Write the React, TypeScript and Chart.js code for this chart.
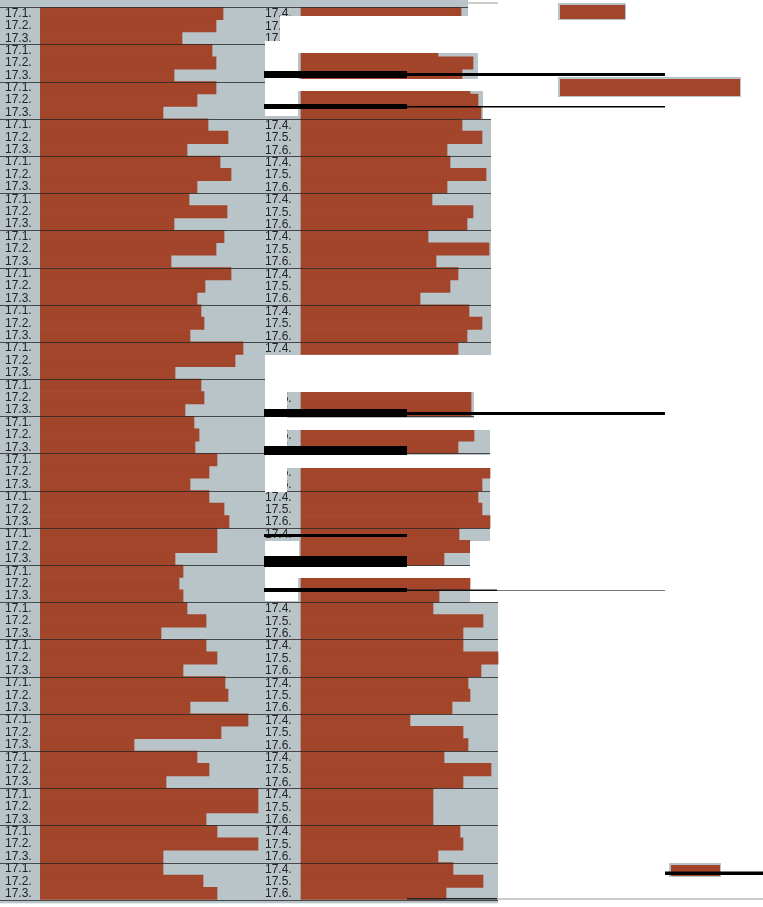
import React, { useEffect, useRef } from 'react';
import { Chart, registerables } from 'chart.js';

Chart.register(...registerables);

// ---- data (bar lengths) ----
const leftCodes = ['17.1.', '17.2.', '17.3.'];
const rightCodes = ['17.4.', '17.5.', '17.6.'];

const left171 = [183, 172, 176, 168, 180, 149, 184, 191, 161, 203, 161, 154, 177, 169, 177, 143, 147, 166, 185, 208, 157, 218, 177, 123];
const left172 = [176, 176, 157, 188, 191, 187, 176, 165, 164, 195, 164, 159, 169, 184, 177, 139, 166, 177, 188, 181, 169, 218, 218, 163];
const left173 = [142, 134, 123, 147, 157, 134, 131, 157, 150, 135, 145, 155, 150, 189, 135, 143, 121, 143, 150, 94, 126, 166, 123, 177];

const right174 = [160, 137, 169, 161, 149, 131, 127, 157, 168, 157, null, null, null, 177, 158, null, 132, 162, 167, 109, 143, 132, 159, 152];
const right175 = [null, 172, 177, 181, 185, 172, 188, 149, 181, null, 170, 173, 189, 181, 169, 169, 182, 197, 169, 162, 190, 132, 162, 182];
const right176 = [null, 161, 180, 146, 146, 166, 135, 119, 166, null, 170, 157, 181, 189, 143, 138, 162, 180, 151, 167, 162, 132, 137, 145];

// ---- styling / layout constants ----
const ORANGE = '#a2452a';
const GRAY = '#b8c4c8';
const LABEL_COLOR = '#242424';
const FONT = '"Liberation Sans", Arial, sans-serif';
const RIGHT_BASE = 261; // right panel bars start offset on the x scale
const PANEL_EDGE = [468, 478, 483, 491, 491, 491, 491, 491, 491, 491, 474, 490, 490, 490, 490, 470, 498, 498, 498, 498, 498, 498, 498, 498];

// damaged areas of the scanned sheet (white paper showing through)
const WHITE_PATCHES: [number, number, number, number][] = [
  [280, 16, 498, 41],
  [265, 41, 498, 53], [265, 53, 298, 79],
  [265, 79, 498, 91], [265, 91, 298, 116],
  [265, 355, 498, 392], [265, 392, 287, 492], [474, 392, 498, 418],
  [287, 418, 498, 430], [287, 455, 498, 468],
  [265, 541, 299, 566], [470, 541, 498, 566],
  [265, 566, 498, 578], [265, 578, 298, 601],
];
const BLACK_MARKS: [number, number, number, number, string][] = [
  [264, 71, 407, 78, '#000'], [407, 73, 665, 76, '#000'],
  [264, 104, 407, 109, '#000'], [407, 106, 665, 107.5, '#000'],
  [264, 409, 407, 417, '#000'], [407, 412, 665, 415, '#000'],
  [264, 446, 407, 455, '#000'],
  [264, 534, 407, 537, '#000'],
  [264, 556, 407, 567, '#000'],
  [264, 588, 407, 592, '#000'], [407, 589.5, 497, 591, '#111'], [497, 590, 665, 591, '#777'],
  [407, 898, 497, 899.5, '#222'], [497, 898.5, 763, 899.5, '#999'],
  [468, 2.5, 498, 3.5, '#999'],
  [665, 871.5, 763, 875, '#000'],
];
const STRAY_PIECES: [number, number, number, number][] = [
  [558, 3, 626, 20],
  [558, 77, 741, 97],
  [669, 863, 721, 877],
];

export default function App() {
  const ref = useRef<HTMLCanvasElement | null>(null);

  useEffect(() => {
    document.body.style.margin = '0';
    const canvas = ref.current;
    if (!canvas) return;

    const groups = left171.length;
    const labels: string[] = [];
    const leftData: number[] = [];
    const rightData: ([number, number] | null)[] = [];
    const rightLabels: string[] = [];
    for (let g = 0; g < groups; g++) {
      const l = [left171[g], left172[g], left173[g]];
      const r = [right174[g], right175[g], right176[g]];
      for (let k = 0; k < 3; k++) {
        labels.push(leftCodes[k]);
        rightLabels.push(rightCodes[k]);
        leftData.push(l[k]);
        const v = r[k];
        rightData.push(v == null ? null : [RIGHT_BASE, RIGHT_BASE + v]);
      }
    }

    const sheetPlugin = {
      id: 'sheet',
      beforeDraw(chart: any) {
        const ctx = chart.ctx;
        const y = chart.scales.y;
        const rowH = y.getPixelForValue(1) - y.getPixelForValue(0);
        ctx.save();
        ctx.fillStyle = '#fff';
        ctx.fillRect(0, 0, chart.width, chart.height);
        ctx.fillStyle = GRAY;
        for (let g = 0; g < groups; g++) {
          let top = y.getPixelForValue(g * 3) - rowH / 2;
          let bot = y.getPixelForValue(g * 3 + 2) + rowH / 2;
          if (g === 0) top = 0;
          if (g === groups - 1) bot += 3;
          ctx.fillRect(0, top, PANEL_EDGE[g], bot - top + 0.5);
        }
        ctx.restore();
      },
      beforeDatasetsDraw(chart: any) {
        const ctx = chart.ctx;
        const y = chart.scales.y;
        ctx.save();
        ctx.fillStyle = LABEL_COLOR;
        ctx.font = `12px ${FONT}`;
        ctx.textBaseline = 'middle';
        ctx.textAlign = 'left';
        for (let i = 0; i < rightLabels.length; i++) {
          ctx.fillText(rightLabels[i], 265, y.getPixelForValue(i) + 0.5);
        }
        ctx.restore();
      },
      afterDatasetsDraw(chart: any) {
        const ctx = chart.ctx;
        const y = chart.scales.y;
        const rowH = y.getPixelForValue(1) - y.getPixelForValue(0);
        ctx.save();
        ctx.strokeStyle = 'rgba(40,40,40,0.8)';
        ctx.lineWidth = 1;
        for (let g = 0; g <= groups; g++) {
          const yy = Math.round(y.getPixelForValue(g * 3) - rowH / 2) + 0.5;
          const edge = PANEL_EDGE[Math.min(g, groups - 1)];
          ctx.beginPath();
          ctx.moveTo(0, yy);
          ctx.lineTo(edge, yy);
          ctx.stroke();
        }
        ctx.fillStyle = '#fff';
        for (const [x0, y0, x1, y1] of WHITE_PATCHES) ctx.fillRect(x0, y0, x1 - x0, y1 - y0);
        ctx.restore();
      },
      afterDraw(chart: any) {
        const ctx = chart.ctx;
        ctx.save();
        for (const [x0, y0, x1, y1] of STRAY_PIECES) {
          ctx.fillStyle = GRAY;
          ctx.fillRect(x0, y0, x1 - x0, y1 - y0);
          ctx.fillStyle = ORANGE;
          ctx.fillRect(x0 + 2, y0 + 2, x1 - x0 - 3, y1 - y0 - 3);
        }
        for (const [x0, y0, x1, y1, c] of BLACK_MARKS) {
          ctx.fillStyle = c;
          ctx.fillRect(x0, y0, x1 - x0, y1 - y0);
        }
        ctx.restore();
      },
    };

    const chart = new Chart(canvas, {
      type: 'bar',
      data: {
        labels,
        datasets: [
          {
            label: 'left',
            data: leftData,
            backgroundColor: ORANGE,
            borderWidth: 0,
            barPercentage: 1,
            categoryPercentage: 1,
            grouped: false,
          } as any,
          {
            label: 'right',
            data: rightData,
            backgroundColor: ORANGE,
            borderWidth: 0,
            barPercentage: 1,
            categoryPercentage: 1,
            grouped: false,
          } as any,
        ],
      },
      options: {
        indexAxis: 'y',
        responsive: false,
        animation: false,
        layout: { padding: { left: 5, top: 4, bottom: 5, right: 0 } },
        plugins: { legend: { display: false }, tooltip: { enabled: false } },
        scales: {
          x: { display: false, min: 0, max: 723 },
          y: {
            type: 'category',
            offset: true,
            grid: { display: false, drawTicks: false },
            border: { display: false },
            afterFit: (s: any) => { s.width = 35; },
            ticks: {
              autoSkip: false,
              crossAlign: 'far',
              padding: 0,
              color: LABEL_COLOR,
              font: { family: FONT, size: 12 },
            },
          },
        },
      },
      plugins: [sheetPlugin],
    });
    return () => chart.destroy();
  }, []);

  return (
    <div style={{ width: 763, height: 907 }}>
      <canvas ref={ref} width={763} height={907} style={{ display: 'block' }} />
    </div>
  );
}
